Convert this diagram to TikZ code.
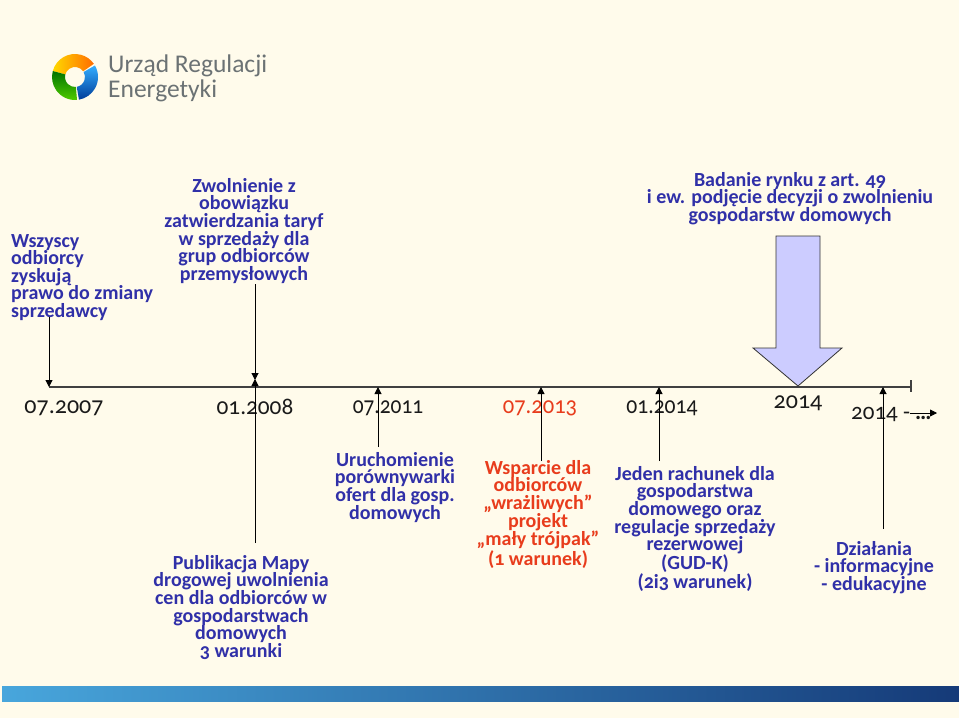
\documentclass[tikz,border=0pt]{standalone}
\usepackage{graphicx}
\usepackage{fontspec}
\setmainfont[Numbers=OldStyle]{Carlito}
\usetikzlibrary{arrows.meta}
\definecolor{bgc}{HTML}{FFFBEB}
\definecolor{bluetxt}{HTML}{3030A8}
\definecolor{redtxt}{HTML}{E83C1C}
\definecolor{datec}{HTML}{1A1A1A}
\definecolor{arrowfill}{HTML}{CCCCFF}
\definecolor{logogrey}{HTML}{6B7274}
\definecolor{barl}{HTML}{48A6DC}
\definecolor{barm}{HTML}{1F6CA6}
\definecolor{barr}{HTML}{153A78}
\tikzset{
  x=1pt,y=-1pt,
  lab/.style={align=center,font=\fontsize{20}{17.6}\selectfont\bfseries,text=bluetxt,inner sep=0pt},
  leftlab/.style={lab,align=left,anchor=north west},
  datelab/.style={font=\fontsize{24}{25}\selectfont,text=datec,inner sep=0pt,anchor=center},
  conn/.style={draw=black,line width=1pt,-{Triangle[length=7pt,width=7pt]}},
  tl/.style={draw=black!75,line width=1.2pt},
}
\begin{document}
\begin{tikzpicture}
\fill[bgc] (0,0) rectangle (959,718);
\useasboundingbox (0,0) rectangle (959,718);
% bottom bar
\shade[left color=barl,middle color=barm,right color=barr] (2,686) rectangle (959,701);
% logo
\shade[left color=yellow!70!orange,right color=orange!85!red] ([shift={(75,77)}]195:23) arc[start angle=195,end angle=325,radius=23] -- ([shift={(75,77)}]325:10) arc[start angle=325,end angle=195,radius=10] -- cycle;
\shade[top color=cyan!60!blue!80,bottom color=blue!60!cyan!60!black] ([shift={(75,77)}]330:23) arc[start angle=330,end angle=440,radius=23] -- ([shift={(75,77)}]440:10) arc[start angle=440,end angle=330,radius=10] -- cycle;
\shade[top color=green!45!black,bottom color=green!60!yellow!80!black] ([shift={(75,77)}]85:23) arc[start angle=85,end angle=195,radius=23] -- ([shift={(75,77)}]195:10) arc[start angle=195,end angle=85,radius=10] -- cycle;
\node[inner sep=0pt,anchor=west,font=\fontsize{25.5}{25}\selectfont,text=logogrey,align=left] (logo) at (108,78) {Urząd Regulacji\\Energetyki};
% axis
\coordinate (axl) at (49,387);
\coordinate (axr) at (911,387);
\draw[tl] (axl) -- (axr);
\coordinate (tick1) at (911,380);
\coordinate (tick2) at (911,392);
\draw[tl] (tick1) -- (tick2);
% labels
\node[leftlab] (a) at (11,234) {Wszyscy\\odbiorcy\\zyskują\\prawo do zmiany\\sprzedawcy};
\node[lab,anchor=north] (b) at (244,178) {Zwolnienie z\\obowiązku\\zatwierdzania taryf\\w sprzedaży dla\\grup odbiorców\\przemysłowych};
\node[lab,anchor=north] (c) at (790,172) {Badanie rynku z art. 49\\i ew. podjęcie decyzji o zwolnieniu\\gospodarstw domowych};
\node[lab,anchor=north] (d) at (241,555) {Publikacja Mapy\\drogowej uwolnienia\\cen dla odbiorców w\\gospodarstwach\\domowych\\3 warunki};
\node[lab,anchor=north] (e) at (395,452) {Uruchomienie\\porównywarki\\ofert dla gosp.\\domowych};
\node[lab,anchor=north,text=redtxt] (f) at (538,460) {Wsparcie dla\\odbiorców\\„wrażliwych”\\projekt\\„mały trójpak”\\(1 warunek)};
\node[lab,anchor=north] (g) at (695,466) {Jeden rachunek dla\\gospodarstwa\\domowego oraz\\regulacje sprzedaży\\rezerwowej\\(GUD-K)\\(2i3 warunek)};
\node[lab,anchor=north] (h) at (874,541) {Działania\\- informacyjne\\- edukacyjne};
% dates
\node[datelab] (d1) at (64,408) {07.2007};
\node[datelab] (d2) at (255,407) {\scalebox{.97}[1]{01.2008}};
\node[datelab] (d3) at (388,408) {\scalebox{.89}[1]{07.2011}};
\node[datelab,text=redtxt] (d4) at (540,408) {\scalebox{.94}[1]{07.2013}};
\node[datelab] (d5) at (662,408) {\scalebox{.9}[1]{01.2014}};
\node[datelab] (d6) at (798,403) {2014};
\node[datelab,anchor=west,font=\fontsize{23}{25}\selectfont] (d7) at (851,414) {2014 -\kern5pt\textbf{…}};
% connectors
\coordinate (p1) at (49,387);
\coordinate (p2) at (255,380);
\coordinate (p3) at (255,379);
\coordinate (p4) at (378,387);
\coordinate (p5) at (541,387);
\coordinate (p6) at (659,387);
\coordinate (p7) at (883,387);
\coordinate (q1) at (49,317);
\coordinate (q2) at (255,284);
\coordinate (q3) at (255,543);
\coordinate (q4) at (378,447);
\coordinate (q5) at (541,461);
\coordinate (q6) at (659,461);
\coordinate (q7) at (883,529);
\draw[conn] (q1) -- (p1);
\draw[conn] (q2) -- (p2);
\draw[conn] (q3) -- (p3);
\draw[conn] (q4) -- (p4);
\draw[conn] (q5) -- (p5);
\draw[conn] (q6) -- (p6);
\draw[conn] (q7) -- (p7);
\coordinate (r1) at (910,413);
\coordinate (r2) at (937,413);
\draw[conn,line width=.8pt] (r1) -- (r2);
% big arrow
\draw[fill=arrowfill,draw=black!80,line width=.8pt] (776,236) -- (820,236) -- (820,348) -- (842,348) -- (798,386) -- (753,348) -- (776,348) -- cycle;
\end{tikzpicture}
\end{document}
